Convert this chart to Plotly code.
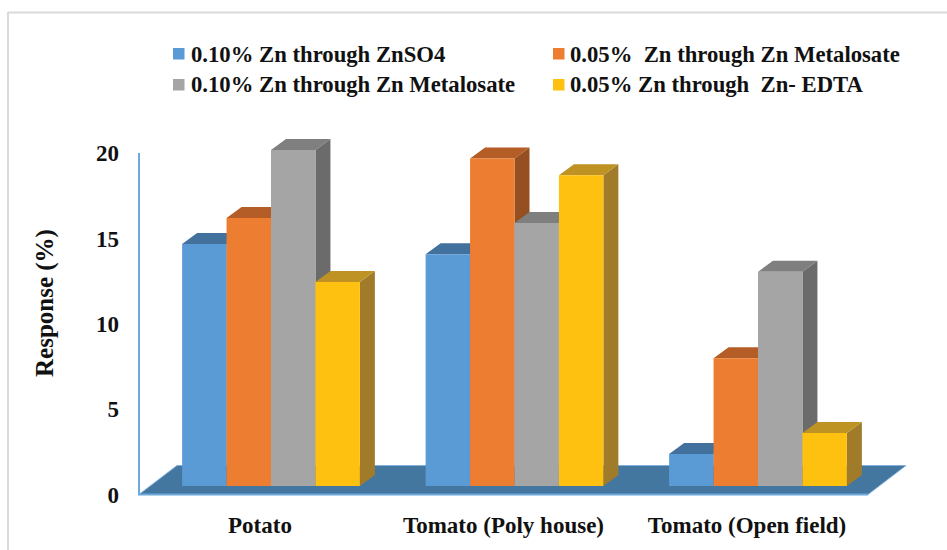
import plotly.graph_objects as go

categories = ["Potato", "Tomato (Poly house)", "Tomato (Open field)"]
series_names = ["0.10% Zn through ZnSO4", "0.05%  Zn through Zn Metalosate",
                "0.10% Zn through Zn Metalosate", "0.05% Zn through  Zn- EDTA"]
zn_so4 = [14.4, 13.8, 1.9]
zn_met_005 = [15.95, 19.5, 7.6]
zn_met_010 = [20.0, 15.65, 12.75]
zn_edta = [12.15, 18.5, 3.15]
y_ticks = [0, 5, 10, 15, 20]

series_values = [zn_so4, zn_met_005, zn_met_010, zn_edta]
front = ["#5B9BD5", "#ED7D31", "#A5A5A5", "#FEC10F"]
top = ["#41719C", "#B55D27", "#7F7F7F", "#BF9224"]
side = ["#3A6A93", "#954F20", "#6B6B6B", "#A07C2A"]
FLOOR = "#44779F"
TXT = "#111111"
FONT = "Liberation Serif"

W, H = 947, 550
L, R, T, B = 138, 910, 130, 500
PX_CAT = 243.5
X0 = 260           # pixel of first category tick
AXIS_ZERO, AXIS_SCALE = 494.5, 17.07
x_range = [(L - X0) / PX_CAT, (R - X0) / PX_CAT]
y_range = [(AXIS_ZERO - B) / AXIS_SCALE, (AXIS_ZERO - T) / AXIS_SCALE]
y_bar_range = [(486 - B) / 16.8, (486 - T) / 16.8]
bargap = 0.27
bar_w = (1 - bargap) / 4
shift = 11 / PX_CAT
dx = 15 / PX_CAT
dy = 11 / 16.8


def px(x):
    return (x - L) / (R - L)


def py(y):
    return (B - y) / (B - T)


fig = go.Figure()

# floor and axis line
fd = 29 / AXIS_SCALE
fl, fr = (139 - X0) / PX_CAT, (868 - X0) / PX_CAT
fs = 38 / PX_CAT
fig.add_trace(go.Scatter(x=[fl, fr, fr + fs, fl + fs, fl], y=[0, 0, fd, fd, 0], fill="toself",
                         fillcolor=FLOOR, mode="lines", line=dict(color="#7FB0DE", width=1),
                         hoverinfo="skip", showlegend=False))
fig.add_trace(go.Scatter(x=[x_range[0] + 1 / PX_CAT] * 2, y=[0, 20], mode="lines",
                         line=dict(color="#6FA8DC", width=2), hoverinfo="skip", showlegend=False))
fig.add_trace(go.Scatter(x=[x_range[0], fr], y=[0, 0], mode="lines",
                         line=dict(color="#6FA8DC", width=2), hoverinfo="skip", showlegend=False))

# depth faces of each bar, computed from the values
for i, vals in enumerate(series_values):
    sx, sy, tx, ty = [], [], [], []
    for k, v in enumerate(vals):
        c = k + shift
        left = c + (i - 2) * bar_w
        right = left + bar_w
        sx += [right, right + dx, right + dx, right, right, None]
        sy += [0, dy, v + dy, v, 0, None]
        tx += [left, right, right + dx, left + dx, left, None]
        ty += [v, v, v + dy, v + dy, v, None]
    fig.add_trace(go.Scatter(x=sx, y=sy, yaxis="y2", fill="toself", fillcolor=side[i], mode="lines",
                             line=dict(width=0, color=side[i]), hoverinfo="skip", showlegend=False))
    fig.add_trace(go.Scatter(x=tx, y=ty, yaxis="y2", fill="toself", fillcolor=top[i], mode="lines",
                             line=dict(width=0, color=top[i]), hoverinfo="skip", showlegend=False))

# front faces
for i, vals in enumerate(series_values):
    fig.add_trace(go.Bar(x=[k + shift for k in range(len(categories))], y=vals, yaxis="y3",
                         name=series_names[i], marker=dict(color=front[i], line=dict(width=0)),
                         showlegend=False))

annotations = [dict(text="<b>Response (%)</b>", xref="paper", yref="paper", x=px(45), y=py(303),
                    xanchor="center", yanchor="middle",
                    textangle=-90, showarrow=False, font=dict(family=FONT, size=25, color=TXT))]
shapes = [
    dict(type="line", xref="paper", yref="paper", x0=px(8), x1=px(947), y0=py(12.5), y1=py(12.5),
         line=dict(color="#DADADA", width=2)),
    dict(type="line", xref="paper", yref="paper", x0=px(8), x1=px(8), y0=py(12), y1=py(550),
         line=dict(color="#DADADA", width=2)),
]
# legend
leg_pos = [(173, 188.5, 54), (553, 568, 54), (173, 188.5, 85), (553, 568, 85)]
for i, (sw, tx, y) in enumerate(leg_pos):
    shapes.append(dict(type="rect", xref="paper", yref="paper", x0=px(sw), x1=px(sw + 11.5),
                       y0=py(y - 6), y1=py(y + 5.5), fillcolor=front[i], line=dict(width=0)))
    annotations.append(dict(text="<b>%s</b>" % series_names[i].replace("  ", "&nbsp;&nbsp;"), xref="paper", yref="paper",
                            x=px(tx), y=py(y), xanchor="left", yanchor="middle", showarrow=False,
                            font=dict(family=FONT, size=22.7, color=TXT)))

fig.update_layout(
    width=W, height=H, autosize=False,
    margin=dict(l=L, r=W - R, t=T, b=H - B),
    paper_bgcolor="white", plot_bgcolor="rgba(0,0,0,0)",
    barmode="group", bargap=bargap, bargroupgap=0,
    showlegend=False,
    annotations=annotations, shapes=shapes,
    xaxis=dict(range=x_range, tickmode="array", tickvals=list(range(len(categories))),
               ticktext=["<b>%s</b>" % c for c in categories], showgrid=False, zeroline=False,
               showline=False, ticks="", ticklabelstandoff=9,
               tickfont=dict(family=FONT, size=23, color=TXT)),
    yaxis=dict(range=y_range, tickmode="array", tickvals=y_ticks,
               ticktext=["<b>%d</b>" % t for t in y_ticks], showgrid=False, zeroline=False,
               showline=False, ticks="", ticklabelstandoff=18,
               tickfont=dict(family=FONT, size=23, color=TXT)),
    yaxis2=dict(range=y_bar_range, overlaying="y", visible=False),
    yaxis3=dict(range=y_bar_range, overlaying="y", visible=False),
)
fig.write_html("out.html", post_script="document.body.style.margin='0';", config={"displayModeBar": False})
